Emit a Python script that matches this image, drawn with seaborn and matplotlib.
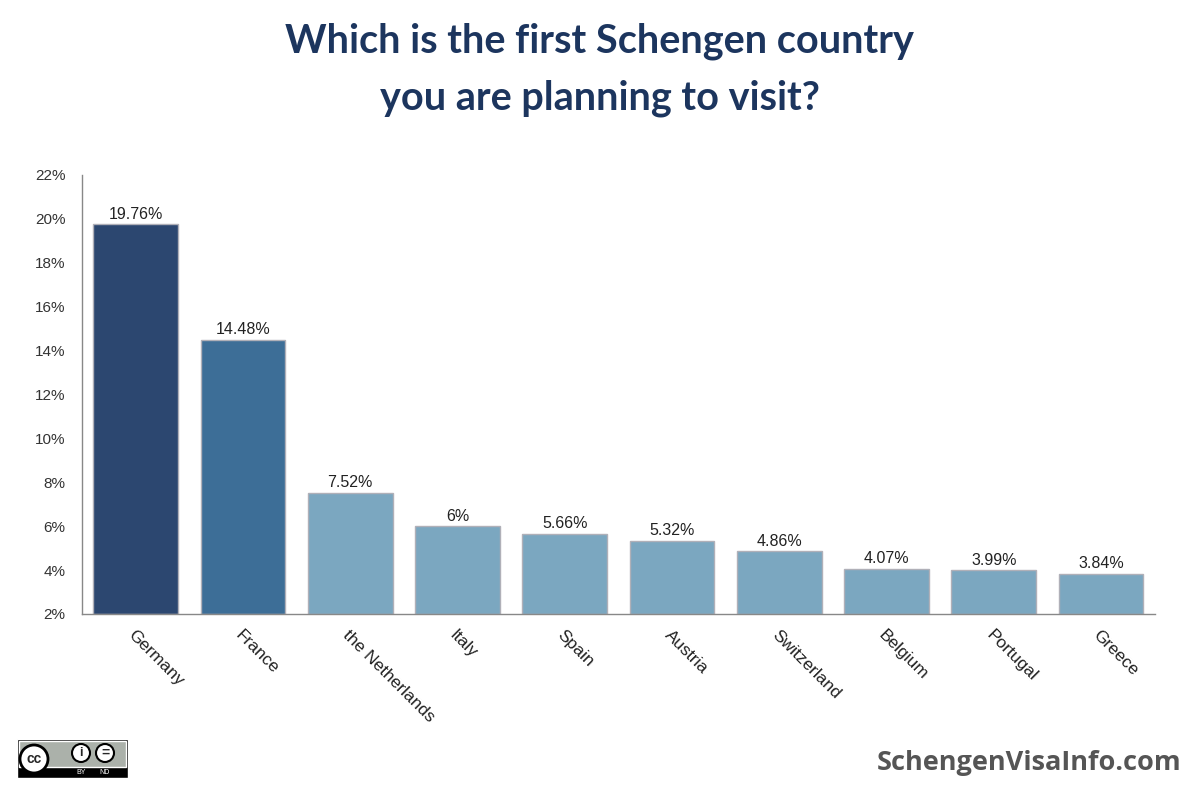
import seaborn as sns
import pandas as pd
import matplotlib.pyplot as plt
from matplotlib.patches import Rectangle, Circle

# Survey data
countries = ['Germany', 'France', 'the Netherlands', 'Italy', 'Spain',
             'Austria', 'Switzerland', 'Belgium', 'Portugal', 'Greece']
shares = [19.76, 14.48, 7.52, 6, 5.66, 5.32, 4.86, 4.07, 3.99, 3.84]
labels = ['19.76%', '14.48%', '7.52%', '6%', '5.66%', '5.32%', '4.86%',
          '4.07%', '3.99%', '3.84%']
bar_colors = ['#2c4770', '#3d6e97'] + ['#7ba7c0'] * 8

data = pd.DataFrame({'country': countries, 'share': shares})

sns.set_style('white')
plt.rcParams['font.family'] = ['Liberation Sans', 'DejaVu Sans']

fig = plt.figure(figsize=(11.99, 7.91), dpi=100)
ax = fig.add_axes([0.0684, 0.2238, 0.8946, 0.555])

sns.barplot(x='country', y='share', data=data, hue='country', palette=bar_colors,
            legend=False, width=0.79, edgecolor='#b0b0b8', linewidth=1,
            saturation=1, ax=ax)

# bars start at 2% baseline
for patch in ax.patches:
    h = patch.get_height()
    patch.set_y(2)
    patch.set_height(h - 2)

ax.set_ylim(2, 22)
ax.set_xlim(-0.5, 9.5)
ax.set_yticks(range(2, 23, 2))
ax.set_yticklabels([f'{v}%' for v in range(2, 23, 2)], fontsize=11, color='#333333')
ax.set_xticks(range(len(countries)))
ax.set_xticklabels(countries, rotation=-45, ha='left', rotation_mode='anchor',
                   fontsize=12.5, color='#222222')
ax.tick_params(axis='x', pad=10, length=0)
ax.tick_params(axis='y', pad=12, length=0)
ax.set_xlabel('')
ax.set_ylabel('')

for side in ['top', 'right']:
    ax.spines[side].set_visible(False)
for side in ['left', 'bottom']:
    ax.spines[side].set_color('#888888')
    ax.spines[side].set_linewidth(1)

for i, (v, lab) in enumerate(zip(shares, labels)):
    ax.text(i, v + 0.12, lab, ha='center', va='bottom', fontsize=11.5, color='#222222')

# Title
fig.text(0.5, 0.948, 'Which is the first Schengen country', ha='center', va='center',
         fontsize=28.5, fontweight='bold', color='#1c355e', family='Lato')
fig.text(0.5, 0.876, 'you are planning to visit?', ha='center', va='center',
         fontsize=28.5, fontweight='bold', color='#1c355e', family='Lato')

# Footer
fig.text(0.985, 0.035, 'SchengenVisaInfo.com', ha='right', va='center',
         fontsize=19.5, fontweight='bold', color='#555555', family='Open Sans',
         fontstretch='condensed')

# CC BY-ND badge
badge = fig.add_axes([17 / 1199, 1 - 778 / 791, 111 / 1199, 39 / 791])
badge.set_xlim(0, 111)
badge.set_ylim(0, 39)
badge.axis('off')
badge.add_patch(Rectangle((0, 0), 111, 39, facecolor='#000000'))
badge.add_patch(Rectangle((2, 11), 107, 26, facecolor='#abb1aa'))
badge.add_patch(Circle((17, 19), 14, facecolor='white', edgecolor='black', lw=2))
badge.text(17, 19, 'cc', ha='center', va='center', fontsize=10, fontweight='bold')
badge.add_patch(Circle((64, 25), 9, facecolor='white', edgecolor='black', lw=1.5))
badge.add_patch(Circle((88, 25), 9, facecolor='white', edgecolor='black', lw=1.5))
badge.text(64, 25, 'i', ha='center', va='center', fontsize=9, fontweight='bold')
badge.text(88, 25, '=', ha='center', va='center', fontsize=10, fontweight='bold')
badge.text(64, 5, 'BY', ha='center', va='center', fontsize=5, color='white')
badge.text(88, 5, 'ND', ha='center', va='center', fontsize=5, color='white')

fig.savefig('out.png', dpi=100, facecolor='white')
